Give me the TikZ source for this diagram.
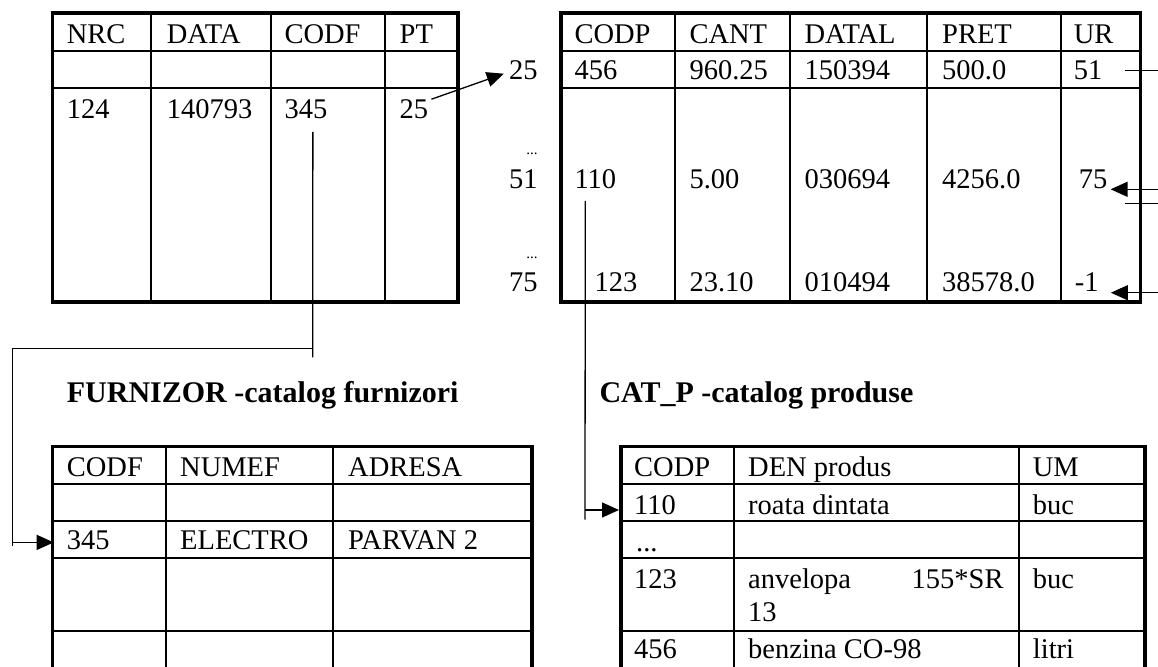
\documentclass[tikz,border=0pt]{standalone}
\usepackage{fontspec}
\setmainfont{Liberation Serif}
\usetikzlibrary{arrows.meta}
\tikzset{
  tabframe/.style={draw=black,line width=3.6pt},   % outer border of a table
  tabline/.style={draw=black,line width=1.8pt},    % inner grid lines
  val/.style={anchor=base west,inner sep=0pt,font=\fontsize{28.5}{33}\selectfont},
  rowno/.style={anchor=base east,inner sep=0pt,font=\fontsize{28.5}{33}\selectfont},
  dots/.style={anchor=base east,inner sep=0pt,font=\fontsize{15}{18}\selectfont},
  ttl/.style={anchor=base west,inner sep=0pt,font=\fontsize{30}{36}\selectfont\bfseries},
  link/.style={black,line width=1.3pt},
  ptr/.style={-{Triangle[length=17pt,width=15pt]},black,line width=1.3pt},
}
\newcommand{\tabgrid}[6]{% x1, y1, x2, y2, inner columns, inner rows
  \foreach \cx in {#5} \draw[tabline] (\cx,#2) -- (\cx,#4);
  \foreach \ry in {#6} \draw[tabline] (#1,\ry) -- (#3,\ry);
  \draw[tabframe] (#1,#2) rectangle (#3,#4);
}

\begin{document}
\begin{tikzpicture}[x=1pt,y=-1pt]
  \useasboundingbox (0,0) rectangle (1158,666);
  \clip (0,0) rectangle (1158,666);
  % comenzi
  \tabgrid{52.3}{13.3}{457.7}{301.7}{151,271,385}{51,87.7}
  \foreach \x/\t [count=\i] in {66.7/NRC,166.7/DATA,284.3/CODF,399.5/PT} \node[val] (ch\i) at (\x,43.3) {\t};
  \node[val] (nrc124) at (66.7,118.3) {124};
  \node[val] (data140793) at (166.7,118.3) {140793};
  \node[val] (codf345) at (284.3,118.3) {345};
  \node[val] (pt25) at (399.5,118.3) {25};
  % pozitii comenzi
  \tabgrid{561}{13.3}{1140.3}{301.7}{675.3,789.7,927,1061.3}{51,87.7}
  \foreach \x/\t [count=\i] in {574.3/CODP,689.3/CANT,804.3/DATAL,942/PRET,1073.7/UR} \node[val] (ph\i) at (\x,43.3) {\t};
  \foreach \x/\t [count=\i] in {574.3/456,689.3/960.25,804.3/150394,942/500.0} \node[val] (pa\i) at (\x,80) {\t};
  \node[val] (ur51) at (1073.7,80) {51};
  \node[val] (codp110) at (574.3,188.3) {110};
  \foreach \x/\t [count=\i] in {689.3/5.00,804.3/030694,942/4256.0} \node[val] (pb\i) at (\x,188.3) {\t};
  \node[val] (ur75) at (1078.7,188.3) {75};
  \node[val] (codp123) at (594.3,291.7) {123};
  \foreach \x/\t [count=\i] in {689.3/23.10,804.3/010494,942/38578.0} \node[val] (pc\i) at (\x,291.7) {\t};
  \node[val] (urm1) at (1074.7,291.7) {-1};
  \node[rowno] (lab25) at (537.7,80) {25};
  \node[dots] (dt1) at (537.7,154) {...};
  \node[rowno] (lab51) at (537.7,188.3) {51};
  \node[dots] (dt2) at (537.7,258.5) {...};
  \node[rowno] (lab75) at (537.7,291.7) {75};
  % titluri
  \node[ttl] (tfurn) at (66.7,402.3) {FURNIZOR -catalog furnizori};
  \node[ttl] (tcatp) at (599.3,402.3) {CAT\_P -catalog produse};
  % furnizori
  \tabgrid{52.3}{446.3}{531.7}{700}{165.7,333.3}{484,520.7,558,630.7}
  \foreach \x/\t [count=\i] in {66.7/CODF,180/NUMEF,348/ADRESA} \node[val] (fh\i) at (\x,476.3) {\t};
  \node[val] (furn345) at (66.7,549.7) {345};
  \node[val] (fnume) at (180,549.7) {ELECTRO};
  \node[val] (fadr) at (348,549.7) {PARVAN 2};
  % produse
  \tabgrid{621}{446.3}{1144.7}{700}{734.3,1018.7}{484,520.7,558,630.7}
  \foreach \x/\t [count=\i] in {634/CODP,748/DEN produs,1032.7/UM} \node[val] (ah\i) at (\x,476.3) {\t};
  \node[val] (catp110) at (634,514) {110};
  \node[val] (den110) at (748,514) {roata dintata};
  \node[val] (um110) at (1032.7,514) {buc};
  \node[val] (dt3) at (636,551) {...};
  \node[val] (catp123) at (634,588) {123};
  \node[val] (den123a) at (748,588) {anvelopa};
  \node[rowno] (den123b) at (1003.7,588) {155*SR};
  \node[val] (den123c) at (748,621) {13};
  \node[val] (um123) at (1032.7,588) {buc};
  \node[val] (catp456) at (634,658) {456};
  \node[val] (den456) at (748,658) {benzina CO-98};
  \node[val] (um456) at (1032.7,658) {litri};
  % legaturi
  \coordinate (rim) at (1170,0);
  \draw[ptr] ([xshift=3pt]pt25.north east) -- ([xshift=-5pt,yshift=-3pt]lab25.west);
  \coordinate (fdown) at (312.7,357.3);
  \coordinate (fbend) at (12.3,348.7);
  \coordinate (fleft) at (12.3,546.3);
  \coordinate (f345in) at ([xshift=-13pt,yshift=-2pt]furn345.west);
  \draw[link] ([xshift=7pt,yshift=-13pt]codf345.south) -- (fdown);
  \draw[link] (fdown |- fbend) -- (fbend) -- (fleft);
  \draw[ptr] (fbend |- f345in) -- (f345in);
  \coordinate (pdown) at (585,519.7);
  \coordinate (p110in) at ([xshift=-15pt,yshift=4pt]catp110.base west);
  \draw[link] ([xshift=11pt,yshift=-12pt]codp110.south west) -- (pdown);
  \draw[ptr] (pdown |- p110in) -- (p110in);
  \draw[link] ([xshift=22pt]ur51.east) -- (ur51.east -| rim);
  \coordinate (u75in) at ([xshift=3pt,yshift=-1pt]ur75.base east);
  \draw[ptr] (u75in -| rim) -- (u75in);
  \coordinate (u75out) at ([xshift=17pt,yshift=-15pt]ur75.base east);
  \draw[link] (u75out) -- (u75out -| rim);
  \coordinate (um1in) at ([xshift=12pt,yshift=-1pt]urm1.base east);
  \draw[ptr] (um1in -| rim) -- (um1in);
\end{tikzpicture}
\end{document}
